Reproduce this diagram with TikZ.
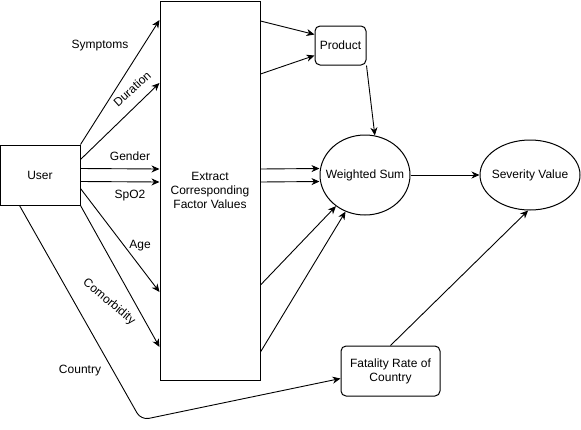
\documentclass[tikz,border=0pt]{standalone}
\usepackage{fontspec}
\setmainfont{Liberation Sans}
\usetikzlibrary{shapes.geometric,arrows.meta,calc}
\begin{document}
\begin{tikzpicture}[x=1pt,y=-1pt,
  every node/.style={font=\fontsize{12}{14}\selectfont, text=black},
  boxn/.style={draw, line width=1pt, inner sep=0pt, align=center},
  rbox/.style={boxn, rounded corners=5pt},
  ell/.style={draw, line width=1pt, ellipse, inner xsep=-12pt, inner ysep=0pt, align=center},
  arr/.style={line width=0.9pt, -{Stealth[length=8pt,width=7pt,inset=2.5pt]}},
  lbl/.style={inner sep=1pt}]
\useasboundingbox (0,0) rectangle (581,429);
% nodes
\node[boxn, minimum width=80pt, minimum height=60pt] (user) at (40,175) {User};
\node[boxn, minimum width=100pt, minimum height=379pt] (ext) at (210,190.5) {Extract\\Corresponding\\Factor Values};
\node[rbox, minimum width=51pt, minimum height=39pt] (prod) at (340.5,45.5) {Product};
\node[ell, minimum width=90pt, minimum height=80pt] (ws) at (365,175) {Weighted Sum};
\node[ell, minimum width=100pt, minimum height=70pt] (sv) at (530,175) {Severity Value};
\node[rbox, minimum width=99pt, minimum height=50pt] (fat) at (390.5,371) {Fatality Rate of\\Country};
% user -> extract
\draw[arr] (user.north east) -- ($(ext.north west)+(0,19.5)$);
\draw[arr] ($(user.north east)+(0,15)$) -- ($(ext.north west)+(0,82.5)$);
\draw[arr] ($(user.north east)+(0,24)$) -- ($(ext.north west)+(0,168.5)$);
\draw[arr] ($(user.north east)+(0,37)$) -- ($(ext.north west)+(0,181.5)$);
\draw[arr] ($(user.north east)+(0,44)$) -- ($(ext.north west)+(0,291.5)$);
\draw[arr] (user.south east) -- ($(ext.north west)+(0,346.5)$);
\coordinate (bend) at (141,420);
\draw[arr, rounded corners=8pt] ($(user.south west)+(20,0)$) -- (bend) -- ($(fat.west)+(0,7.5)$);
% labels
\node[lbl] (lsym) at (100,46) {Symptoms};
\node[lbl, rotate=42] (ldur) at (132,89) {Duration};
\node[lbl] (lgen) at (130,156) {Gender};
\node[lbl] (lspo) at (130,196) {SpO2};
\node[lbl] (lage) at (140,246) {Age};
\node[lbl, rotate=-40] (lcom) at (109,302) {Comorbidity};
\node[lbl] (lcou) at (80,371) {Country};
% extract -> product
\draw[arr] ($(ext.north east)+(0,20.5)$) -- ($(prod.north west)+(0,9)$);
\draw[arr] ($(ext.north east)+(0,73.5)$) -- ($(prod.north west)+(0,30)$);
% product -> ws
\draw[arr] (prod.south east) -- (ws.76);
% extract -> ws
\draw[arr] ($(ext.north east)+(0,168.5)$) -- ([yshift=6.5pt]ws.west);
\draw[arr] ($(ext.north east)+(0,181.5)$) -- ([yshift=-6.5pt]ws.west);
\draw[arr] ($(ext.north east)+(0,284.5)$) -- (ws.-133);
\draw[arr] ($(ext.north east)+(0,351.5)$) -- (ws.-118);
% ws -> sv, fat -> sv
\draw[arr] (ws.east) -- (sv.west);
\draw[arr] (fat.north) -- (sv.-93);
\end{tikzpicture}
\end{document}
